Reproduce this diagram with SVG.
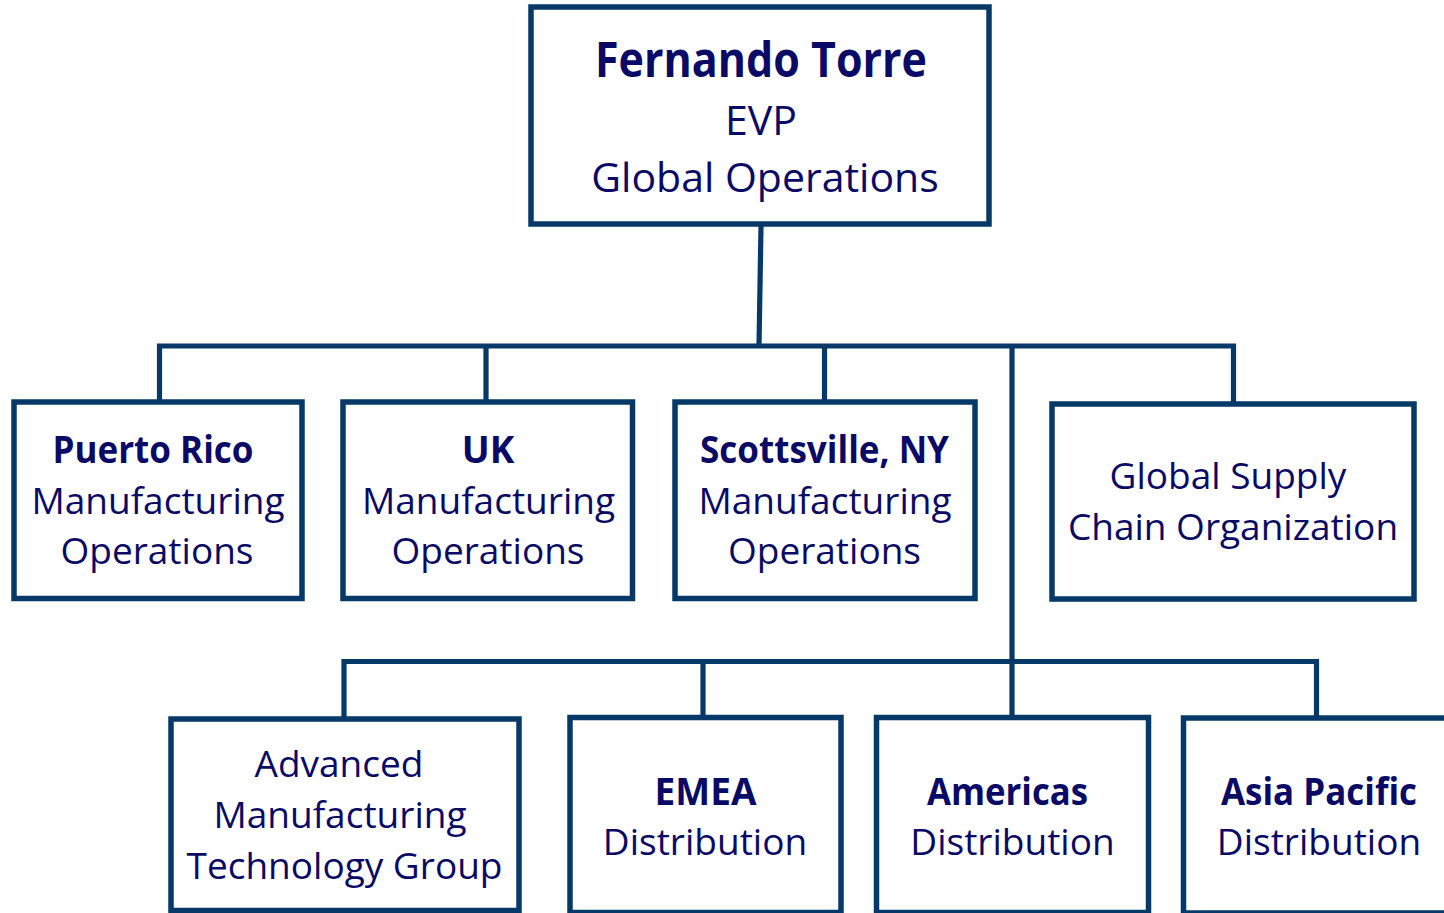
<svg xmlns="http://www.w3.org/2000/svg" width="1444" height="913" viewBox="0 0 1444 913">
<style>
.box{fill:#ffffff;stroke:#063868;stroke-width:5.5}
.con{fill:none;stroke:#063868;stroke-width:5.2;stroke-linejoin:miter;stroke-linecap:butt}
text{font-family:"Open Sans","Noto Sans","Liberation Sans",sans-serif;fill:#0a0a66;text-anchor:middle}
.r{font-size:37px;font-weight:400}
.b{font-size:37px;font-weight:700}
.tr{font-size:41px;font-weight:400}
.tb{font-size:48px;font-weight:700}
</style>
<rect x="0" y="0" width="1444" height="913" fill="#ffffff"/>
<g id="connectors">
<path class="con" d="M761 226 L759 346"/>
<path class="con" d="M159.5 402 V346 H1233.5 V404"/>
<path class="con" d="M486 346 V402"/>
<path class="con" d="M824.5 346 V402"/>
<path class="con" d="M1012 346 V717"/>
<path class="con" d="M344 719 V661.5 H1316.5 V718"/>
<path class="con" d="M703 661.5 V717"/>
</g>
<g id="node-ceo">
<rect class="box" x="531" y="7" width="458" height="217"/>
<text class="tb" x="761" y="77" textLength="332" lengthAdjust="spacingAndGlyphs">Fernando Torre</text>
<text class="tr" x="761" y="135">EVP</text>
<text class="tr" x="765" y="192">Global Operations</text>
</g>
<g id="node-puerto-rico">
<rect class="box" x="14" y="402" width="288" height="196.5"/>
<text class="b" x="153" y="463" textLength="201" lengthAdjust="spacingAndGlyphs">Puerto Rico</text>
<text class="r" x="158" y="514">Manufacturing</text>
<text class="r" x="157" y="564">Operations</text>
</g>
<g id="node-uk">
<rect class="box" x="343" y="402" width="289.5" height="196.5"/>
<text class="b" x="488" y="463">UK</text>
<text class="r" x="488.5" y="514">Manufacturing</text>
<text class="r" x="488" y="564">Operations</text>
</g>
<g id="node-scottsville">
<rect class="box" x="675" y="402" width="300" height="196.5"/>
<text class="b" x="824.5" y="463" textLength="249" lengthAdjust="spacingAndGlyphs">Scottsville, NY</text>
<text class="r" x="825" y="514">Manufacturing</text>
<text class="r" x="824.5" y="564">Operations</text>
</g>
<g id="node-global-supply">
<rect class="box" x="1052" y="404" width="362" height="195"/>
<text class="r" x="1228" y="489">Global Supply</text>
<text class="r" x="1233" y="540">Chain Organization</text>
</g>
<g id="node-amtg">
<rect class="box" x="171" y="719" width="348" height="191.5"/>
<text class="r" x="339" y="777">Advanced</text>
<text class="r" x="340" y="828">Manufacturing</text>
<text class="r" x="344.5" y="879">Technology Group</text>
</g>
<g id="node-emea">
<rect class="box" x="570" y="717.5" width="271" height="195"/>
<text class="b" x="705.5" y="805">EMEA</text>
<text class="r" x="705" y="855">Distribution</text>
</g>
<g id="node-americas">
<rect class="box" x="876.5" y="717.5" width="272" height="195"/>
<text class="b" x="1007.5" y="805" textLength="161" lengthAdjust="spacingAndGlyphs">Americas</text>
<text class="r" x="1012.5" y="855">Distribution</text>
</g>
<g id="node-asia-pacific">
<rect class="box" x="1183.5" y="718" width="272" height="195"/>
<text class="b" x="1319" y="805" textLength="196" lengthAdjust="spacingAndGlyphs">Asia Pacific</text>
<text class="r" x="1319" y="855">Distribution</text>
</g>
</svg>
